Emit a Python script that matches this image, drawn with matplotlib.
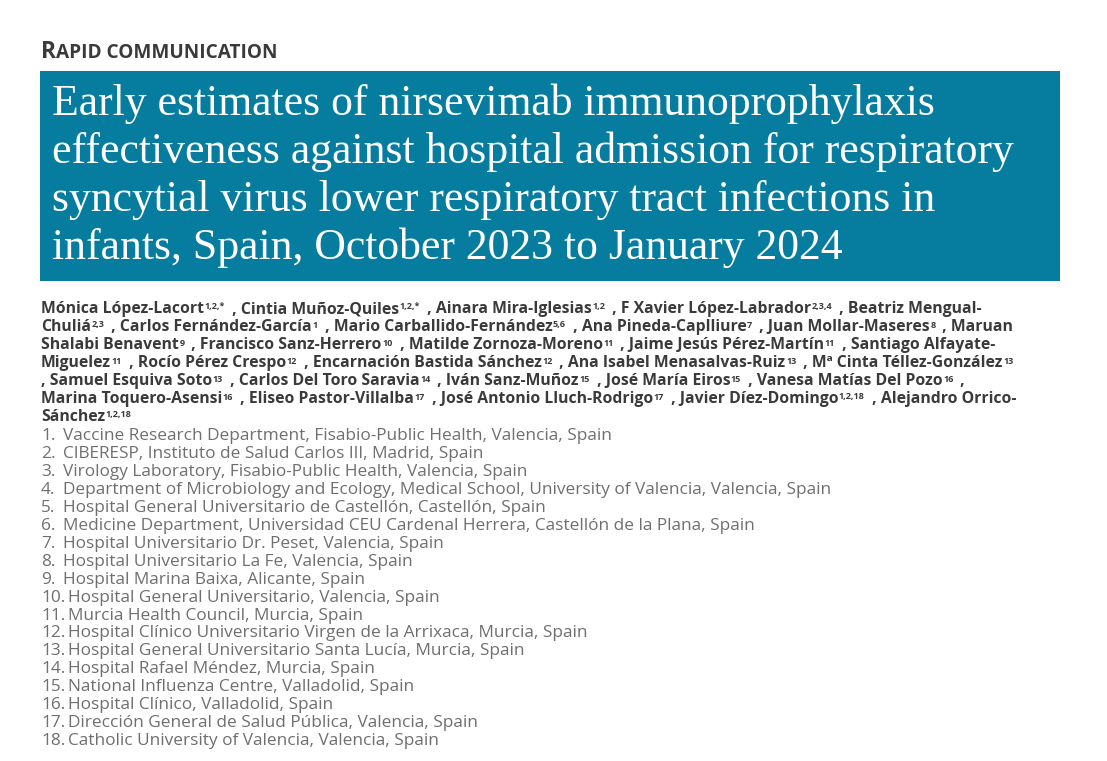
import matplotlib
matplotlib.use('Agg')
import matplotlib.pyplot as plt
from matplotlib.patches import Rectangle

heading = [('R', 16.5), ('APID COMMUNICATION', 13.7)]

title_lines = [
    'Early estimates of nirsevimab immunoprophylaxis',
    'effectiveness against hospital admission for respiratory',
    'syncytial virus lower respiratory tract infections in',
    'infants, Spain, October 2023 to January 2024',
]

# each author line: (name text, superscript) runs
author_lines = [
    [('Mónica López-Lacort', '1,2,*'), (' , Cintia Muñoz-Quiles', '1,2,*'), (' , Ainara Mira-Iglesias', '1,2'),
     (' , F Xavier López-Labrador', '2,3,4'), (' , Beatriz Mengual-', '')],
    [('Chuliá', '2,3'), (' , Carlos Fernández-García', '1'), (' , Mario Carballido-Fernández', '5,6'),
     (' , Ana Pineda-Caplliure', '7'), (' , Juan Mollar-Maseres', '8'), (' , Maruan', '')],
    [('Shalabi Benavent', '9'), (' , Francisco Sanz-Herrero', '10'), (' , Matilde Zornoza-Moreno', '11'),
     (' , Jaime Jesús Pérez-Martín', '11'), (' , Santiago Alfayate-', '')],
    [('Miguelez', '11'), (' , Rocío Pérez Crespo', '12'), (' , Encarnación Bastida Sánchez', '12'),
     (' , Ana Isabel Menasalvas-Ruiz', '13'), (' , Mª Cinta Téllez-González', '13')],
    [(', Samuel Esquiva Soto', '13'), (' , Carlos Del Toro Saravia', '14'), (' , Iván Sanz-Muñoz', '15'),
     (' , José María Eiros', '15'), (' , Vanesa Matías Del Pozo', '16'), (' ,', '')],
    [('Marina Toquero-Asensi', '16'), (' , Eliseo Pastor-Villalba', '17'), (' , José Antonio Lluch-Rodrigo', '17'),
     (' , Javier Díez-Domingo', '1,2,18'), (' , Alejandro Orrico-', '')],
    [('Sánchez', '1,2,18')],
]

affiliations = [
    'Vaccine Research Department, Fisabio-Public Health, Valencia, Spain',
    'CIBERESP, Instituto de Salud Carlos III, Madrid, Spain',
    'Virology Laboratory, Fisabio-Public Health, Valencia, Spain',
    'Department of Microbiology and Ecology, Medical School, University of Valencia, Valencia, Spain',
    'Hospital General Universitario de Castellón, Castellón, Spain',
    'Medicine Department, Universidad CEU Cardenal Herrera, Castellón de la Plana, Spain',
    'Hospital Universitario Dr. Peset, Valencia, Spain',
    'Hospital Universitario La Fe, Valencia, Spain',
    'Hospital Marina Baixa, Alicante, Spain',
    'Hospital General Universitario, Valencia, Spain',
    'Murcia Health Council, Murcia, Spain',
    'Hospital Clínico Universitario Virgen de la Arrixaca, Murcia, Spain',
    'Hospital General Universitario Santa Lucía, Murcia, Spain',
    'Hospital Rafael Méndez, Murcia, Spain',
    'National Influenza Centre, Valladolid, Spain',
    'Hospital Clínico, Valladolid, Spain',
    'Dirección General de Salud Pública, Valencia, Spain',
    'Catholic University of Valencia, Valencia, Spain',
]

TEAL = '#067c9e'
DARK = '#3a3a3c'
GREY = '#6f6f71'
SANS = 'Open Sans'

fig = plt.figure(figsize=(11.07, 7.61), dpi=100)
ax = fig.add_axes([0, 0, 1, 1])
ax.set_xlim(0, 1107)
ax.set_ylim(761, 0)
ax.axis('off')
renderer = fig.canvas.get_renderer()


def put(x, y, s, **kw):
    # draw text and return the x where the next run starts
    t = ax.text(x, y, s, va='baseline', ha='left', **kw)
    w = t.get_window_extent(renderer).width
    return x + w


x = 41
for s, size in heading:
    x = put(x, 57.5, s, fontsize=size, family=SANS, fontweight='bold', color=DARK)

ax.add_patch(Rectangle((40, 71), 1020, 210, facecolor=TEAL, edgecolor='none'))
for i, line in enumerate(title_lines):
    ax.text(52, 115 + i * 48, line, fontsize=31.5, family='Liberation Serif',
            color='white', va='baseline', ha='left')

for i, runs in enumerate(author_lines):
    y = 313 + i * 18
    x = 41
    for name, sup in runs:
        x = put(x, y, name, fontsize=11.3, family=SANS, fontweight='bold', color=DARK)
        if sup:
            x = put(x + 0.5, y - 3.5, sup, fontsize=6.5, family=SANS, fontweight='bold', color=DARK)
        x += 3

for i, aff in enumerate(affiliations):
    y = 440 + i * 17.95
    ax.text(41, y, f'{i + 1}.', fontsize=12.4, family=SANS, color=GREY, va='baseline', ha='left')
    ax.text(63 if i < 9 else 68, y, aff, fontsize=12.4, family=SANS, color=GREY, va='baseline', ha='left')

fig.savefig('out.png', dpi=100)
